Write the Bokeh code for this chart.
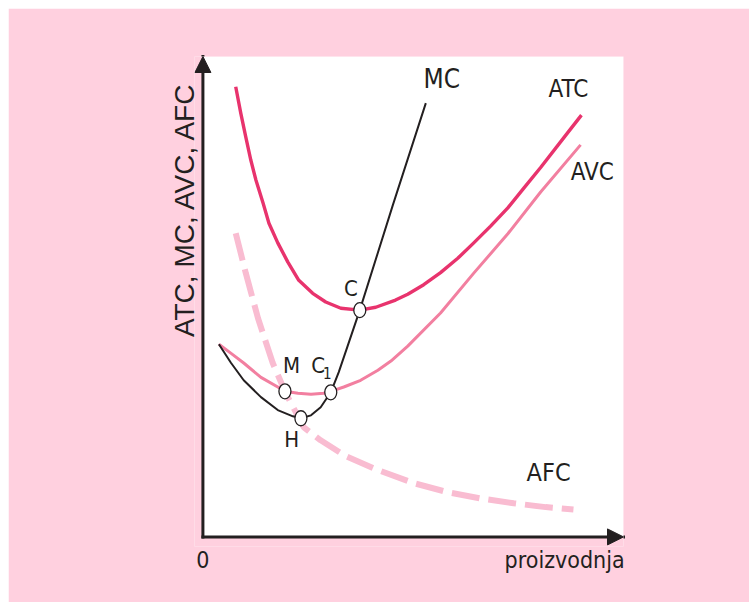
import math
from bokeh.plotting import figure
from bokeh.models import Range1d, Arrow, NormalHead, Label, FixedTicker
from bokeh.embed import file_html
from bokeh.resources import INLINE

# ---- data (abstract units: x 0..10, y 0..10) ----
atc_x = [0.78, 0.90, 1.02, 1.14, 1.26, 1.43, 1.57, 1.78, 2.02, 2.28, 2.61, 2.92, 3.28, 3.73,
         4.11, 4.58, 4.87, 5.25, 5.65, 6.06, 6.44, 6.84, 7.25, 7.63, 8.03, 8.67, 9.00]
atc_y = [9.37, 8.82, 8.32, 7.84, 7.43, 6.95, 6.53, 6.12, 5.72, 5.34, 5.07, 4.89, 4.76, 4.72,
         4.78, 4.93, 5.05, 5.25, 5.50, 5.80, 6.12, 6.47, 6.85, 7.26, 7.69, 8.41, 8.78]

avc_x = [0.38, 0.67, 0.97, 1.38, 1.78, 1.95, 2.26, 2.57, 2.87, 3.04, 3.35, 3.75, 4.16, 4.47,
         4.87, 5.65, 6.44, 7.25, 8.03, 8.98]
avc_y = [4.01, 3.82, 3.62, 3.32, 3.12, 3.03, 2.99, 2.97, 2.99, 3.03, 3.12, 3.26, 3.47, 3.66,
         3.97, 4.66, 5.49, 6.31, 7.18, 8.16]

mc_x = [0.38, 0.67, 0.97, 1.38, 1.78, 2.14, 2.33, 2.57, 2.80, 3.04, 3.23, 3.44, 3.73, 4.51, 5.30]
mc_y = [4.01, 3.62, 3.26, 2.91, 2.64, 2.51, 2.47, 2.53, 2.70, 3.01, 3.43, 3.97, 4.72, 6.89, 9.03]

afc_x = [0.78, 1.02, 1.31, 1.66, 1.97, 2.40, 2.80, 3.40, 4.11, 5.01, 5.82, 6.60, 7.39, 8.15, 8.81]
afc_y = [6.32, 5.49, 4.55, 3.62, 2.99, 2.28, 2.01, 1.68, 1.41, 1.12, 0.93, 0.80, 0.70, 0.62, 0.57]

pt_names = ["C", "C1", "M", "H"]
pt_x = [3.73, 3.04, 1.95, 2.33]
pt_y = [4.72, 3.01, 3.03, 2.47]

y_title = "ATC, MC, AVC, AFC"
x_title = "proizvodnja"
y_title_at = 9.48
x_title_at = 8.60

# ---- styles ----
BG = "#FFD0DF"
INK = "#231F20"
C_ATC = "#E8336D"
C_AVC = "#F27FA0"
C_AFC = "#F9BCD1"
NARROW = "'DejaVu Sans Condensed', 'Liberation Sans Narrow', 'Liberation Sans', sans-serif"
SANS = "'Liberation Sans', Arial, sans-serif"

p = figure(width=741, height=594, output_backend="svg", toolbar_location=None,
           x_range=Range1d(-0.2, 10), y_range=Range1d(-0.2, 10),
           min_border_left=186, min_border_right=126, min_border_top=48, min_border_bottom=56)
p.margin = (8, 0, 0, 8)
p.background_fill_color = BG
p.border_fill_color = BG
p.outline_line_color = None
p.xgrid.visible = False
p.ygrid.visible = False

for ax in (p.xaxis[0], p.yaxis[0]):
    ax.axis_line_color = None
    ax.major_tick_line_color = None
    ax.minor_tick_line_color = None
    ax.major_label_text_color = INK

p.xaxis.ticker = FixedTicker(ticks=[0, x_title_at])
p.xaxis.major_label_overrides = {0: "0", x_title_at: x_title}
p.xaxis.major_label_text_font = NARROW
p.xaxis.major_label_text_font_size = "23px"
p.xaxis.major_label_standoff = -6

p.yaxis.ticker = FixedTicker(ticks=[y_title_at])
p.yaxis.major_label_overrides = {y_title_at: y_title}
p.yaxis.major_label_orientation = math.pi / 2
p.yaxis.major_label_text_font = SANS
p.yaxis.major_label_text_font_size = "28px"
p.yaxis.major_label_standoff = 4

# white plotting area
p.quad(left=[0], right=[10], bottom=[0], top=[10], fill_color="white", line_color=None)

# curves
p.line(afc_x, afc_y, line_color=C_AFC, line_width=6, line_dash="28 9")
p.line(avc_x, avc_y, line_color=C_AVC, line_width=3, line_join="round")
p.line(atc_x, atc_y, line_color=C_ATC, line_width=3.4, line_join="round")
p.line(mc_x, mc_y, line_color=INK, line_width=2, line_join="round")

p.ellipse(pt_x, pt_y, width=12, height=15, width_units="screen", height_units="screen",
          fill_color="white", line_color=INK, line_width=1.3)

# axes with arrow heads
p.add_layout(Arrow(end=NormalHead(size=16, fill_color=INK, line_color=INK),
                   x_start=0, y_start=0, x_end=0, y_end=10, line_width=3, line_color=INK,
                   line_cap="square"))
p.add_layout(Arrow(end=NormalHead(size=16, fill_color=INK, line_color=INK),
                   x_start=0, y_start=0, x_end=10, y_end=0, line_width=3, line_color=INK,
                   line_cap="square"))

def lab(txt, x, y, size, font=NARROW):
    p.add_layout(Label(x=x, y=y, text=txt, text_font=font, text_font_size=size,
                       text_color=INK, text_align="center", text_baseline="middle"))

lab("MC", 5.68, 9.53, "26px")
lab("ATC", 8.69, 9.32, "24px")
lab("AVC", 9.26, 7.59, "24px")
lab("AFC", 8.22, 1.34, "25px")
lab("C", 3.52, 5.18, "22px")
lab("M", 2.11, 3.57, "22px")
lab("C", 2.74, 3.57, "22px")
lab("1", 2.96, 3.41, "15px")
lab("H", 2.11, 2.03, "22px")

open("out.html", "w").write(file_html(p, INLINE))
